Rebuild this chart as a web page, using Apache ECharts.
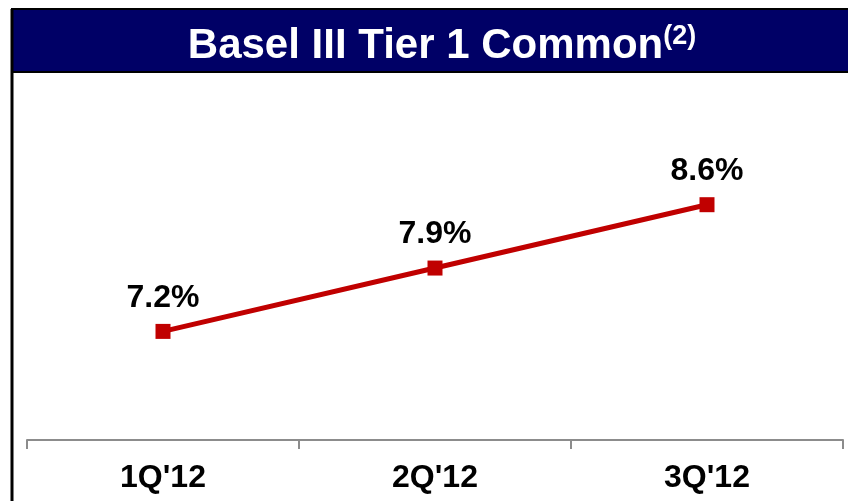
<!DOCTYPE html>
<html>
<head>
<meta charset="utf-8">
<script src="https://cdn.jsdelivr.net/npm/echarts@6/dist/echarts.min.js"></script>
<style>
  html, body { margin: 0; padding: 0; background: #fff; }
  #main { width: 848px; height: 501px; }
</style>
</head>
<body>
<div id="main"></div>
<script>
const quarters = ["1Q'12", "2Q'12", "3Q'12"]
const tier1Common = [7.2, 7.9, 8.6]

const chart = echarts.init(document.getElementById('main'))

const option = {
  animation: false,
  backgroundColor: '#fff',
  graphic: [
    {
      type: 'rect',
      shape: { x: 12, y: 9, width: 840, height: 63 },
      style: { fill: '#000066', stroke: '#000', lineWidth: 2 },
      z: 0
    },
    {
      type: 'line',
      shape: { x1: 12, y1: 9, x2: 12, y2: 501 },
      style: { stroke: '#000', lineWidth: 3 },
      z: 1
    }
  ],
  title: {
    text: '{main|Basel III Tier 1 Common}{sup|(2)}',
    left: 437,
    top: 18,
    textAlign: 'center',
    textStyle: {
      rich: {
        main: {
          color: '#fff',
          fontFamily: 'Liberation Sans, Arial, sans-serif',
          fontWeight: 'bold',
          fontSize: 42,
          lineHeight: 46
        },
        sup: {
          color: '#fff',
          fontFamily: 'Liberation Sans, Arial, sans-serif',
          fontWeight: 'bold',
          fontSize: 27,
          verticalAlign: 'top',
          lineHeight: 46,
          padding: [0, 0, 20, 0]
        }
      }
    }
  },
  grid: { left: 27, right: 5, top: 78, bottom: 61 },
  xAxis: {
    type: 'category',
    data: quarters,
    boundaryGap: true,
    axisLine: { lineStyle: { color: '#8c8c8c', width: 2 } },
    axisTick: { show: true, interval: 0, length: 9, lineStyle: { color: '#8c8c8c', width: 2 } },
    axisLabel: {
      color: '#000',
      fontFamily: 'Liberation Sans, Arial, sans-serif',
      fontWeight: 'bold',
      fontSize: 32,
      margin: 22
    }
  },
  yAxis: {
    type: 'value',
    min: 6,
    max: 10,
    show: false,
    splitLine: { show: false }
  },
  series: [
    {
      name: 'Basel III Tier 1 Common',
      type: 'line',
      data: tier1Common,
      symbol: 'rect',
      symbolSize: 15,
      lineStyle: { color: '#c00000', width: 5 },
      itemStyle: { color: '#c00000' },
      label: {
        show: true,
        position: 'top',
        distance: 10,
        color: '#000',
        fontFamily: 'Liberation Sans, Arial, sans-serif',
        fontWeight: 'bold',
        fontSize: 32,
        formatter: (p) => p.value.toFixed(1) + '%'
      }
    }
  ]
}

chart.setOption(option)
</script>
</body>
</html>
